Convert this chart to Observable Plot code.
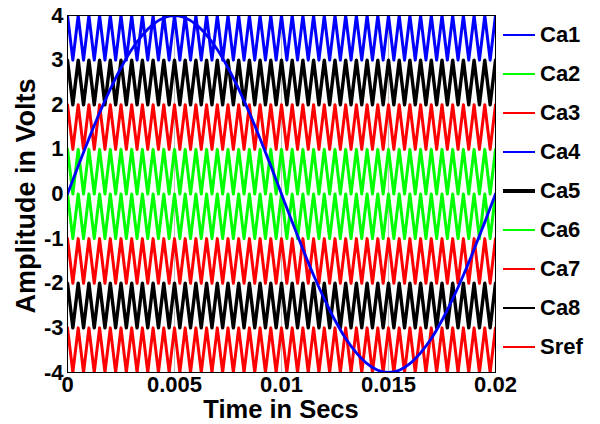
<!DOCTYPE html>
<html>
<head>
<meta charset="utf-8">
<script src="https://cdn.jsdelivr.net/npm/d3@7"></script>
<script src="https://cdn.jsdelivr.net/npm/@observablehq/plot@0.6"></script>
<style>
  html, body { margin: 0; padding: 0; background: #fff; }
  #wrap { position: relative; width: 600px; height: 424px; font-family: "Liberation Sans", Arial, sans-serif; font-weight: bold; color: #000; }
  #chart svg { display: block; }
  .lab { position: absolute; white-space: nowrap; line-height: 1; }
  #legend { position: absolute; left: 500px; top: 15.5px; }
  .row { height: 39px; display: flex; align-items: center; font-size: 22px; }
  .sw { width: 32px; margin-left: 3px; margin-right: 5px; }
</style>
</head>
<body>
<div id="wrap">
  <div id="chart"></div>
  <div class="lab" id="ylab" style="left:26px; top:196px; font-size:27px; transform: translate(-50%,-50%) rotate(-90deg);">Amplitude in Volts</div>
  <div class="lab" id="xlab" style="left:281px; top:410px; font-size:25.5px; transform: translate(-50%,-50%);">Time in Secs</div>
  <div id="legend"></div>
</div>
<script>
// ---- data ----
const carrierPeriod = 0.0005;      // s, 40 cycles over 0.02 s
const carrierCycles = 40;
const bandBottoms = [3, 2, 1, 0, -1, -2, -3, -4];
const bandColors = ["#0000ff", "#000000", "#ff0000", "#00ff00", "#00ff00", "#ff0000", "#000000", "#ff0000"];

const srefTimes = d3.range(0, 41).map(i => i * 0.0005);
const srefValues = [
  0, 0.63, 1.24, 1.82, 2.35, 2.83, 3.24, 3.56, 3.80, 3.95, 4.00,
  3.95, 3.80, 3.56, 3.24, 2.83, 2.35, 1.82, 1.24, 0.63, 0,
  -0.63, -1.24, -1.82, -2.35, -2.83, -3.24, -3.56, -3.80, -3.95, -4.00,
  -3.95, -3.80, -3.56, -3.24, -2.83, -2.35, -1.82, -1.24, -0.63, 0
];

const xTicks = [0, 0.005, 0.01, 0.015, 0.02];
const xTickLabels = ["0", "0.005", "0.01", "0.015", "0.02"];
const yTicks = [-4, -3, -2, -1, 0, 1, 2, 3, 4];
const yTickLabels = ["-4", "-3", "-2", "-1", "0", "1", "2", "3", "4"];

const legendNames = ["Ca1", "Ca2", "Ca3", "Ca4", "Ca5", "Ca6", "Ca7", "Ca8", "Sref"];
const legendColors = ["#0000ff", "#00ff00", "#ff0000", "#0000ff", "#000000", "#00ff00", "#ff0000", "#000000", "#ff0000"];

// ---- build tables ----
const carrierRows = [];
bandBottoms.forEach((b, k) => {
  for (let j = 0; j <= carrierCycles * 2; j++) {
    carrierRows.push({band: k, t: j * carrierPeriod / 2, v: b + (j % 2 === 0 ? 1 : 0)});
  }
});
const sref = srefTimes.map((t, i) => ({t, v: srefValues[i]}));

const marks = [
  Plot.ruleX([0.005, 0.01, 0.015], {stroke: "#c0c0c0", strokeWidth: 1})
];
bandBottoms.forEach((b, k) => {
  marks.push(Plot.line(carrierRows.filter(d => d.band === k), {
    x: "t", y: "v", stroke: bandColors[k], strokeWidth: bandColors[k] === "#000000" ? 3.4 : 3, clip: true
  }));
});
marks.push(Plot.line(sref, {x: "t", y: "v", stroke: "#0000ff", strokeWidth: 2.8, curve: "catmull-rom", clip: true}));
marks.push(Plot.frame({stroke: "#000", strokeWidth: 1}));
marks.push(Plot.axisX({ticks: xTicks, tickFormat: d => xTickLabels[xTicks.indexOf(d)], tickSize: 0, tickPadding: 4, label: null, fontSize: 22, fontWeight: "bold"}));
marks.push(Plot.axisY({ticks: yTicks, tickFormat: d => yTickLabels[yTicks.indexOf(d)], tickSize: 0, tickPadding: 4, label: null, fontSize: 22, fontWeight: "bold"}));

const chart = Plot.plot({
  width: 600,
  height: 424,
  marginTop: 15,
  marginBottom: 52,
  marginLeft: 67,
  marginRight: 105,
  style: {fontFamily: "'Liberation Sans', Arial, sans-serif", color: "#000", background: "transparent"},
  x: {domain: [0, 0.02]},
  y: {domain: [-4, 4]},
  marks
});
document.getElementById("chart").appendChild(chart);

// ---- legend ----
const leg = document.getElementById("legend");
legendNames.forEach((n, i) => {
  const row = document.createElement("div");
  row.className = "row";
  const sw = document.createElement("div");
  sw.className = "sw";
  sw.style.height = n === "Ca5" ? "4px" : "2.5px";
  sw.style.background = legendColors[i];
  const tx = document.createElement("span");
  tx.textContent = n;
  row.appendChild(sw);
  row.appendChild(tx);
  leg.appendChild(row);
});
</script>
</body>
</html>
